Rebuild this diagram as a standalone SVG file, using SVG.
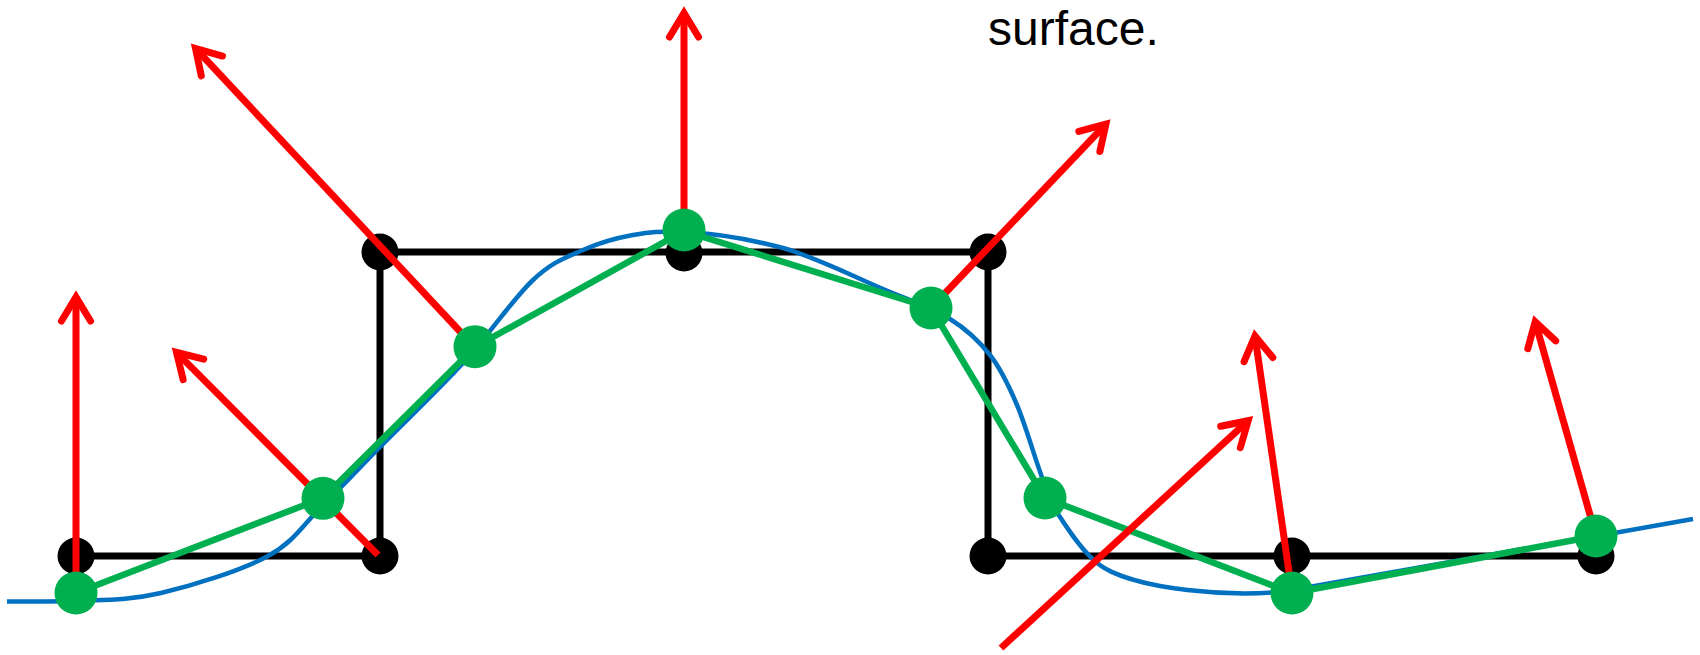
<svg xmlns="http://www.w3.org/2000/svg" width="1700" height="655" viewBox="0 0 1700 655">
<style>
.grid{stroke:#000;stroke-width:7;fill:none}
.bdot{fill:#000}
.gdot{fill:#00B050}
.poly{stroke:#00B050;stroke-width:6.5;fill:none;stroke-linejoin:round}
.curve{stroke:#0070C0;stroke-width:4.5;fill:none}
.arrow{stroke:#FF0000;stroke-width:7;fill:none;marker-end:url(#ah)}
.label{font-family:"Liberation Sans",Arial,sans-serif;font-size:48px;fill:#000}
</style>
<defs>
<marker id="ah" markerUnits="userSpaceOnUse" orient="auto" refX="0" refY="0" markerWidth="60" markerHeight="60" style="overflow:visible">
<path d="M-24,-14.5 L0,0 L-24,14.5" fill="none" stroke="#FF0000" stroke-width="7" stroke-linecap="round" stroke-linejoin="miter"/>
</marker>
</defs>
<rect width="1700" height="655" fill="#fff"/>
<g id="connectors">
<g id="grid-lines">
<path class="grid" d="M76,556 L380,556 L380,252 L988,252 L988,556 L1596,556"/>
</g>
</g>
<g id="black-nodes">
<g id="b1"><circle class="bdot" cx="76" cy="556" r="18.5"/></g>
<g id="b2"><circle class="bdot" cx="380" cy="556" r="18.5"/></g>
<g id="b3"><circle class="bdot" cx="380" cy="252" r="18.5"/></g>
<g id="b4"><circle class="bdot" cx="684" cy="253" r="18.5"/></g>
<g id="b5"><circle class="bdot" cx="988" cy="252" r="18.5"/></g>
<g id="b6"><circle class="bdot" cx="988" cy="556" r="18.5"/></g>
<g id="b7"><circle class="bdot" cx="1292" cy="556" r="18.5"/></g>
<g id="b8"><circle class="bdot" cx="1596" cy="556" r="18.5"/></g>
</g>
<g id="curves">
<path class="curve" d="M7,601.5 C18.5,601.5 50,601.5 76,601 C101.7,599.7 129,600.5 161,593 C193,585.5 241,570.7 268,556 C295,541.3 304.3,523.2 323,505 C341.7,486.8 356.7,470.7 380,447 C403.3,423.3 437.5,390.8 463,363 C488.5,335.2 513,298.8 533,280 C553,261.2 566.3,257.5 583,250 C599.7,242.5 616.2,238 633,235 C649.8,232 659,231 684,232 C709,233 744.2,237.8 783,248 C816.2,257.5 855.2,277.2 883,289 C910.8,300.8 932.2,308 950,319 C967.8,330 978.8,340.7 990,355 C1001.2,369.3 1008.2,384.2 1017,405 C1025.8,425.8 1035.8,461.3 1043,480 C1050.2,498.7 1051,503.2 1060,517 C1069,530.8 1082,550.8 1097,563 C1130,590 1240,599 1292,590 L1693,519"/>
<polyline class="poly" points="76,593 323,498 475,347 684,231 931,308 1045,498 1292,593 1596,536"/>
</g>
<g id="normals">
<line class="arrow" x1="76" y1="593" x2="76" y2="297"/>
<line class="arrow" x1="378" y1="555" x2="176.5" y2="352.4"/>
<line class="arrow" x1="475" y1="347.5" x2="195.5" y2="48.4"/>
<line class="arrow" x1="684" y1="230" x2="684" y2="13"/>
<line class="arrow" x1="931" y1="308" x2="1105.9" y2="124.1"/>
<line class="arrow" x1="1001" y1="648" x2="1248.2" y2="420.7"/>
<line class="arrow" x1="1292" y1="593" x2="1255" y2="335.9"/>
<line class="arrow" x1="1596" y1="536" x2="1535.2" y2="321.7"/>
</g>
<g id="green-nodes">
<g id="g1"><circle class="gdot" cx="76" cy="593" r="21.5"/></g>
<g id="g2"><circle class="gdot" cx="323" cy="498.3" r="21.5"/></g>
<g id="g3"><circle class="gdot" cx="475" cy="346.7" r="21.5"/></g>
<g id="g4"><circle class="gdot" cx="684" cy="230" r="21.5"/></g>
<g id="g5"><circle class="gdot" cx="931" cy="308" r="21.5"/></g>
<g id="g6"><circle class="gdot" cx="1045" cy="498" r="21.5"/></g>
<g id="g7"><circle class="gdot" cx="1292" cy="593" r="21.5"/></g>
<g id="g8"><circle class="gdot" cx="1596" cy="536" r="21.5"/></g>
</g>
<text class="label" x="988" y="44.5">surface.</text>
</svg>
